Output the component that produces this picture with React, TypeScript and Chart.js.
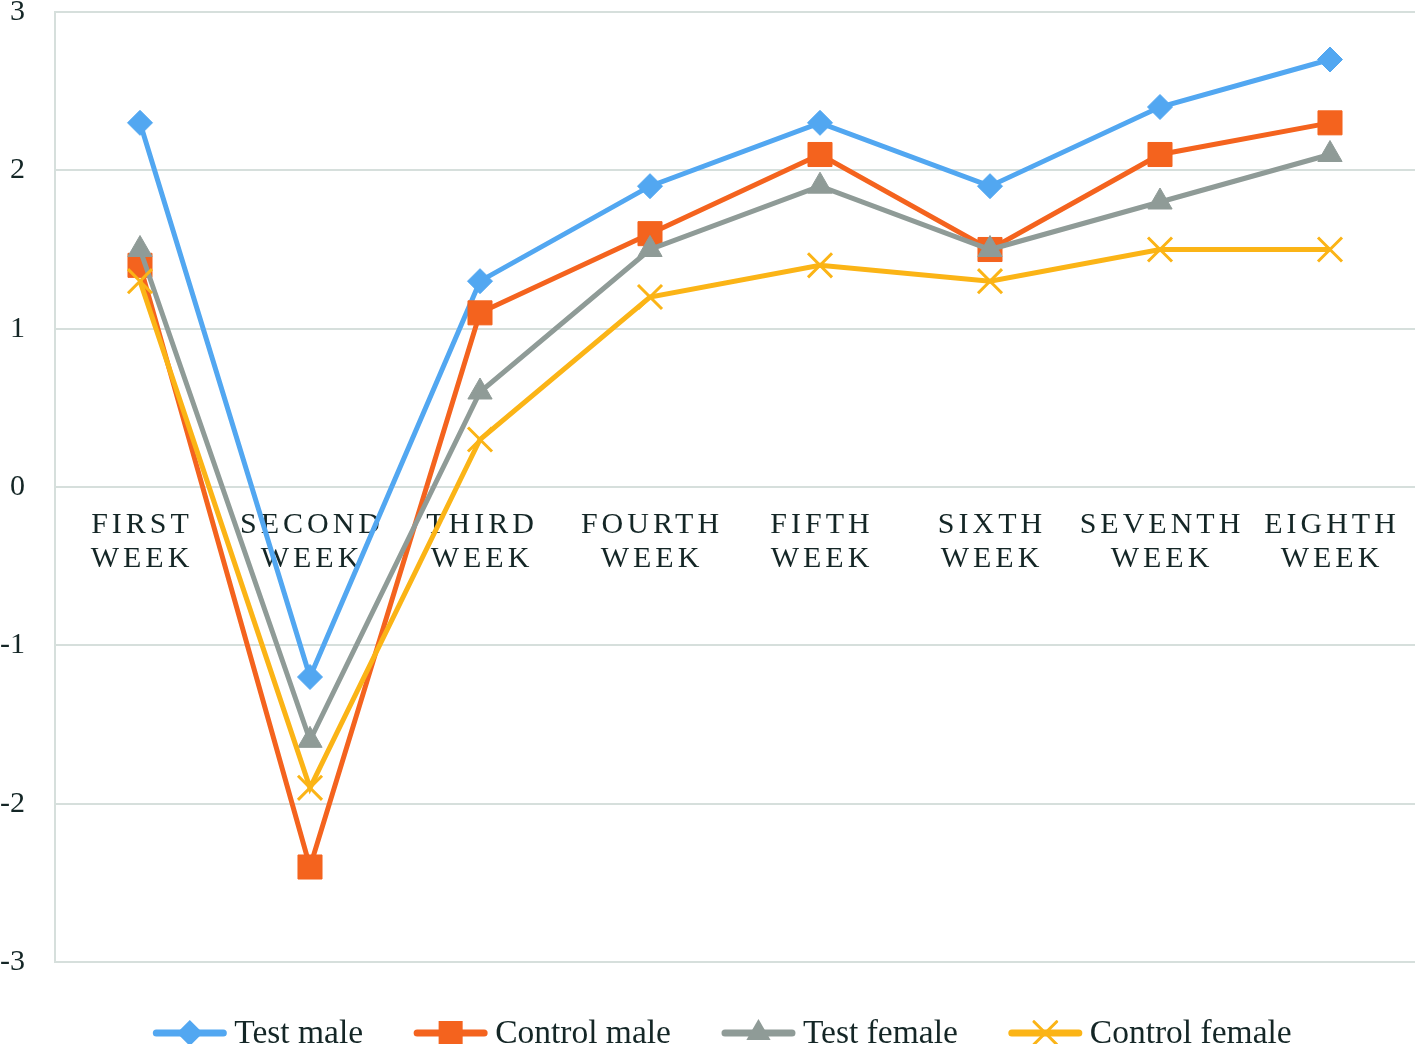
import React, { useEffect, useRef } from "react";
import { Chart, registerables } from "chart.js";

Chart.register(...registerables);

const categories: string[][] = [
  ["FIRST", "WEEK"],
  ["SECOND", "WEEK"],
  ["THIRD", "WEEK"],
  ["FOURTH", "WEEK"],
  ["FIFTH", "WEEK"],
  ["SIXTH", "WEEK"],
  ["SEVENTH", "WEEK"],
  ["EIGHTH", "WEEK"],
];

const testMale = [2.3, -1.2, 1.3, 1.9, 2.3, 1.9, 2.4, 2.7];
const controlMale = [1.4, -2.4, 1.1, 1.6, 2.1, 1.5, 2.1, 2.3];
const testFemale = [1.5, -1.6, 0.6, 1.5, 1.9, 1.5, 1.8, 2.1];
const controlFemale = [1.3, -1.9, 0.3, 1.2, 1.4, 1.3, 1.5, 1.5];

const seriesNames = ["Test male", "Control male", "Test female", "Control female"];

const BLUE = "#52a7f1";
const ORANGE = "#f4631e";
const GRAY = "#8f9b97";
const YELLOW = "#fbb416";
const GRID = "#d6dfdc";
const TEXT = "#142626";
const SERIF = "'Liberation Serif', 'Times New Roman', serif";

function drawMarker(ctx: CanvasRenderingContext2D, style: string, x: number, y: number, r: number, color: string) {
  ctx.save();
  ctx.fillStyle = color;
  ctx.strokeStyle = color;
  ctx.beginPath();
  if (style === "rectRot") {
    ctx.moveTo(x, y - r);
    ctx.lineTo(x + r, y);
    ctx.lineTo(x, y + r);
    ctx.lineTo(x - r, y);
    ctx.closePath();
    ctx.fill();
  } else if (style === "rect") {
    const s = r * Math.SQRT1_2;
    ctx.rect(x - s, y - s, 2 * s, 2 * s);
    ctx.fill();
  } else if (style === "triangle") {
    ctx.moveTo(x, y - r);
    ctx.lineTo(x + r * 0.866, y + r * 0.5);
    ctx.lineTo(x - r * 0.866, y + r * 0.5);
    ctx.closePath();
    ctx.fill();
  } else if (style === "crossRot") {
    const d = r * Math.SQRT1_2;
    ctx.lineWidth = 3;
    ctx.moveTo(x - d, y - d);
    ctx.lineTo(x + d, y + d);
    ctx.moveTo(x - d, y + d);
    ctx.lineTo(x + d, y - d);
    ctx.stroke();
  }
  ctx.restore();
}

const categoryLabelPlugin = {
  id: "categoryLabels",
  beforeDatasetsDraw(chart: any) {
    const ctx: CanvasRenderingContext2D = chart.ctx;
    const xs = chart.scales.x;
    const ys = chart.scales.y;
    const y0 = ys.getPixelForValue(0);
    const ls = 4;
    ctx.save();
    ctx.font = `30px ${SERIF}`;
    ctx.fillStyle = TEXT;
    ctx.textAlign = "center";
    ctx.textBaseline = "alphabetic";
    (ctx as any).letterSpacing = `${ls}px`;
    categories.forEach((lines, i) => {
      const x = xs.getPixelForValue(i) + ls / 2;
      lines.forEach((t, j) => {
        ctx.fillText(t, x, y0 + 46 + j * 34);
      });
    });
    ctx.restore();
  },
};

const legendPlugin = {
  id: "customLegend",
  afterDraw(chart: any) {
    const ctx: CanvasRenderingContext2D = chart.ctx;
    const items = chart.data.datasets.map((d: any) => ({
      label: d.label,
      color: d.borderColor,
      style: d.pointStyle,
    }));
    const lineLen = 75;
    const gapText = 7;
    const gapItem = 50;
    ctx.save();
    ctx.font = `33.5px ${SERIF}`;
    const widths = items.map((it: any) => lineLen + gapText + ctx.measureText(it.label).width);
    const total = widths.reduce((a: number, b: number) => a + b, 0) + gapItem * (items.length - 1);
    let x = 722 - total / 2;
    const yLine = 1033;
    const yText = 1043;
    items.forEach((it: any, i: number) => {
      ctx.strokeStyle = it.color;
      ctx.lineWidth = 7;
      ctx.lineCap = "round";
      ctx.beginPath();
      ctx.moveTo(x + 4, yLine);
      ctx.lineTo(x + lineLen - 4, yLine);
      ctx.stroke();
      const r = it.style === "rect" ? 17 : it.style === "triangle" ? 14 : it.style === "crossRot" ? 16 : 13;
      drawMarker(ctx, it.style, x + lineLen / 2, yLine, r, it.color);
      ctx.fillStyle = TEXT;
      ctx.textAlign = "left";
      ctx.textBaseline = "alphabetic";
      ctx.fillText(it.label, x + lineLen + gapText, yText);
      x += widths[i] + gapItem;
    });
    ctx.restore();
  },
};

export default function App() {
  const ref = useRef<HTMLCanvasElement | null>(null);

  useEffect(() => {
    document.body.style.margin = "0";
    document.documentElement.style.overflow = "hidden";
    if (!ref.current) return;
    const mk = (label: string, data: number[], color: string, style: string, radius: number, order: number) => ({
      label,
      data,
      borderColor: color,
      backgroundColor: color,
      borderWidth: 5,
      pointStyle: style,
      pointRadius: radius,
      pointBorderWidth: style === "crossRot" ? 3 : 1,
      pointBorderColor: color,
      pointBackgroundColor: color,
      tension: 0,
      fill: false,
      order,
    });
    const chart = new Chart(ref.current, {
      type: "line",
      data: {
        labels: categories.map((c) => c.join(" ")),
        datasets: [
          mk(seriesNames[0], testMale, BLUE, "rectRot", 12.5, 3),
          mk(seriesNames[1], controlMale, ORANGE, "rect", 17, 2),
          mk(seriesNames[2], testFemale, GRAY, "triangle", 14, 1),
          mk(seriesNames[3], controlFemale, YELLOW, "crossRot", 17, 0),
        ],
      },
      options: {
        animation: false,
        responsive: false,
        maintainAspectRatio: false,
        layout: { autoPadding: false, padding: { top: 12, right: 3, bottom: 82, left: 0 } },
        plugins: {
          legend: { display: false },
          tooltip: { enabled: false },
        },
        scales: {
          x: {
            type: "category",
            display: false,
            offset: true,
            grid: { display: false },
          },
          y: {
            min: -3,
            max: 3,
            ticks: {
              stepSize: 1,
              padding: 30,
              color: TEXT,
              font: { family: SERIF, size: 30 },
            },
            grid: { color: GRID, lineWidth: 2, drawTicks: false },
            border: { color: GRID, width: 2 },
            afterFit: (s: any) => {
              s.width = 55;
              s.paddingTop = 0;
              s.paddingBottom = 0;
            },
          },
        },
      },
      plugins: [categoryLabelPlugin, legendPlugin],
    } as any);
    return () => chart.destroy();
  }, []);

  return (
    <div style={{ width: 1418, height: 1044, position: "relative", background: "#fff" }}>
      <canvas ref={ref} width={1418} height={1044} style={{ display: "block", width: 1418, height: 1044 }} />
    </div>
  );
}
